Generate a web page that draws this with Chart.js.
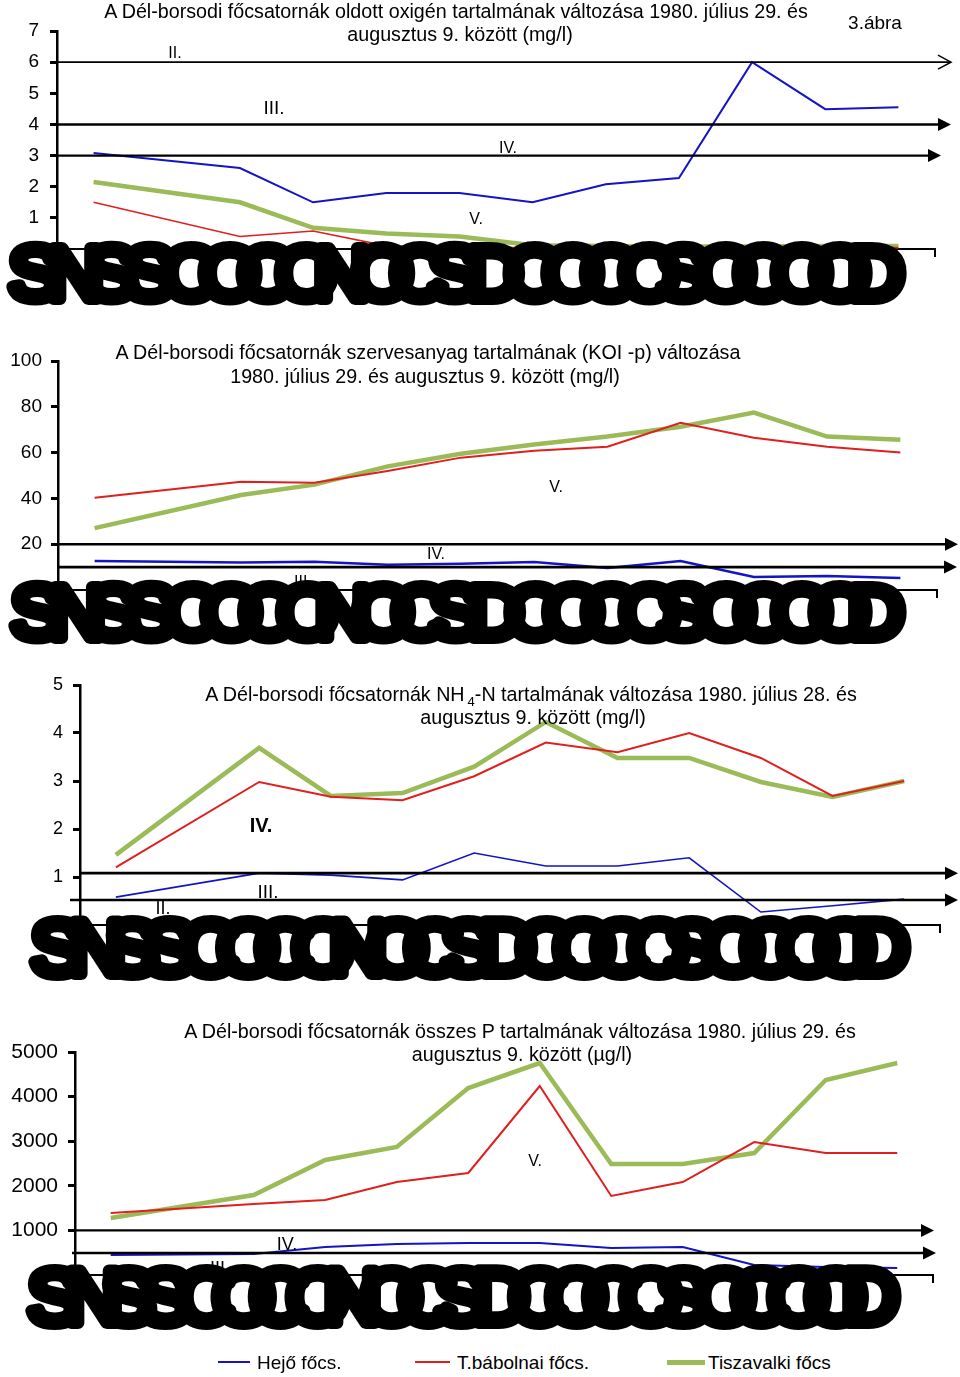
<!DOCTYPE html>
<html><head><meta charset="utf-8">
<script src="https://cdn.jsdelivr.net/npm/chart.js@4.4.1/dist/chart.umd.min.js"></script>
<style>
html,body{margin:0;padding:0;background:#fff;}
body{width:960px;height:1377px;position:relative;overflow:hidden;font-family:"Liberation Sans",Arial,sans-serif;color:#000;}
canvas{position:absolute;left:0;}
.t{position:absolute;white-space:nowrap;font-size:19.7px;line-height:1;transform:translate(-50%,-50%);}
.lg{position:absolute;height:0;}
</style></head><body>
<canvas id="c1" width="960" height="320" style="top:0px"></canvas>
<canvas id="c2" width="960" height="320" style="top:330px"></canvas>
<canvas id="c3" width="960" height="330" style="top:655px"></canvas>
<canvas id="c4" width="960" height="350" style="top:990px"></canvas>

<div class="t" style="left:456px;top:12px">A Dél-borsodi főcsatornák oldott oxigén tartalmának változása 1980. július 29. és</div>
<div class="t" style="left:460px;top:35px">augusztus 9. között (mg/l)</div>
<div class="t" style="left:875px;top:22px;font-size:19px">3.ábra</div>
<div class="t" style="left:175px;top:53px;font-size:16px">II.</div>
<div class="t" style="left:274px;top:107px;font-size:19px">III.</div>
<div class="t" style="left:508px;top:148px;font-size:16px">IV.</div>
<div class="t" style="left:476px;top:219px;font-size:16px">V.</div>

<div class="t" style="left:428px;top:353px">A Dél-borsodi főcsatornák szervesanyag tartalmának (KOI -p) változása</div>
<div class="t" style="left:425px;top:377px">1980. július 29. és augusztus 9. között (mg/l)</div>
<div class="t" style="left:436px;top:554px;font-size:16px">IV.</div>
<div class="t" style="left:556px;top:487px;font-size:16px">V.</div>
<div class="t" style="left:303px;top:582px;font-size:16px">III.</div>

<div class="t" style="left:531px;top:695px">A Dél-borsodi főcsatornák NH<span style="font-size:13px;position:relative;top:5px;margin-left:3px">4</span>-N tartalmának változása 1980. július 28. és</div>
<div class="t" style="left:533px;top:718px">augusztus 9. között (mg/l)</div>
<div class="t" style="left:261px;top:825px;font-size:20px;font-weight:bold">IV.</div>
<div class="t" style="left:268px;top:891px;font-size:19px">III.</div>
<div class="t" style="left:163px;top:908px;font-size:18px">II.</div>

<div class="t" style="left:520px;top:1032px">A Dél-borsodi főcsatornák összes P tartalmának változása 1980. július 29. és</div>
<div class="t" style="left:522px;top:1055px">augusztus 9. között (µg/l)</div>
<div class="t" style="left:287px;top:1244px;font-size:18px">IV.</div>
<div class="t" style="left:220px;top:1268px;font-size:18px">III.</div>
<div class="t" style="left:535px;top:1161px;font-size:16px">V.</div>

<canvas id="b1" width="960" height="84"></canvas>
<canvas id="b2" width="960" height="84"></canvas>
<canvas id="b3" width="960" height="84"></canvas>
<canvas id="b4" width="960" height="84"></canvas>

<div id="legend"></div>

<script>
// ---- data ----
const categories = ['VII. 29.','VII. 30.','VII. 31.','VIII. 1.','VIII. 2.','VIII. 3.','VIII. 4.','VIII. 5.','VIII. 6.','VIII. 7.','VIII. 8.','VIII. 9.'];
const seriesNames = ['Hejő főcs.','T.bábolnai főcs.','Tiszavalki főcs'];
// the unreadable, overprinted category-label strip under each plot
const garbledLabel = 'SNSSCOCONOCSDCOCOSOCOOD';

// oldott oxigén (mg/l)
const o2Hejo  = [3.08, null, 2.6, 1.5, 1.8, 1.8, 1.5, 2.08, 2.28, 6.0, 4.49, 4.55];
const o2Tbab  = [1.5, null, 0.4, 0.58, 0.1, 0.05, 0.05, 0.05, 0.05, 0.05, 0.05, 0.05];
const o2Tisza = [2.15, null, 1.5, 0.68, 0.5, 0.4, 0.12, 0.1, 0.08, 0.08, 0.1, 0.1];
const o2Ticks = [0, 7, 1];          // min, max, step
const o2Classes = [6, 4, 3];

// KOI-p (mg/l)
const koiHejo  = [12.7, null, 12.0, 12.3, 11.0, 11.5, 12.2, 9.6, 12.7, 5.7, 6.1, 5.2];
const koiTbab  = [40.3, null, 47.3, 46.8, 52.0, 57.8, 60.8, 62.6, 73.0, 66.5, 62.6, 60.0];
const koiTisza = [27.0, null, 41.5, 46.0, 54.0, 59.5, 63.5, 67.0, 71.3, 77.5, 67.0, 65.6];
const koiTicks = [0, 100, 20];
const koiClasses = [20, 10];

// NH4-N (mg/l)
const nhHejo  = [0.58, null, 1.08, 1.04, 0.94, 1.5, 1.23, 1.23, 1.4, 0.27, 0.4, 0.54];
const nhTbab  = [1.2, null, 2.98, 2.67, 2.6, 3.1, 3.8, 3.6, 4.0, 3.48, 2.69, 3.0];
const nhTisza = [1.46, null, 3.69, 2.69, 2.75, 3.3, 4.23, 3.48, 3.48, 2.98, 2.67, 3.0];
const nhTicks = [0, 5, 1];
const nhClasses = [1.08, 0.52];

// összes P (µg/l)
const pHejo  = [448, null, 470, 628, 695, 717, 717, 605, 628, 224, 179, 157];
const pTbab  = [1390, null, 1592, 1682, 2085, 2287, 4237, 1771, 2085, 2982, 2735, 2735];
const pTisza = [1278, null, 1794, 2578, 2870, 4192, 4753, 2488, 2488, 2735, 4372, 4753];
const pTicks = [0, 5000, 1000];
const pClasses = [1000, 493];

const COLORS = ['#1414c4', '#e01f1f', '#9bbb59'];
const WIDTHS = [2, 2, 4.5];
const FONT = '"Liberation Sans", Arial, sans-serif';

const arrowPlugin = {
  id: 'classArrows',
  afterDatasetsDraw(chart, args, opts) {
    const ctx = chart.ctx, ys = chart.scales.y;
    (opts.items || []).forEach(it => {
      const py = ys.getPixelForValue(it.value);
      ctx.save();
      ctx.strokeStyle = '#000'; ctx.fillStyle = '#000';
      ctx.lineWidth = it.w;
      ctx.beginPath();
      ctx.moveTo(it.x0, py);
      ctx.lineTo(it.head === 'open' ? it.x1 : it.x1 - 10, py);
      ctx.stroke();
      if (it.head === 'open') {
        ctx.lineWidth = 1.5;
        ctx.beginPath();
        ctx.moveTo(it.x1 - 13, py - 7); ctx.lineTo(it.x1, py); ctx.lineTo(it.x1 - 13, py + 7);
        ctx.stroke();
      } else {
        ctx.beginPath();
        ctx.moveTo(it.x1, py); ctx.lineTo(it.x1 - 13, py - 6.5); ctx.lineTo(it.x1 - 13, py + 6.5);
        ctx.closePath(); ctx.fill();
      }
      ctx.restore();
    });
    // small closing tick at the right end of the category axis
    const {right, bottom} = chart.chartArea;
    ctx.save();
    ctx.strokeStyle = '#000'; ctx.lineWidth = 2;
    ctx.beginPath(); ctx.moveTo(right, bottom); ctx.lineTo(right, bottom + 8); ctx.stroke();
    ctx.restore();
  }
};

function makeChart(id, data, ticks, cfg) {
  const [hejo, tbab, tisza] = data;
  return new Chart(document.getElementById(id), {
    type: 'line',
    data: {
      labels: categories,
      datasets: [hejo, tbab, tisza].map((d, i) => ({
        label: seriesNames[i], data: d,
        borderColor: COLORS[i], backgroundColor: COLORS[i],
        borderWidth: (cfg.widths || WIDTHS)[i], pointRadius: 0, tension: 0,
        spanGaps: true, fill: false
      }))
    },
    options: {
      responsive: false, animation: false, events: [],
      layout: { padding: { top: cfg.top, right: cfg.right, left: 0, bottom: 0 } },
      plugins: { legend: { display: false }, tooltip: { enabled: false },
                 classArrows: { items: cfg.arrows } },
      scales: {
        x: {
          offset: true,
          grid: { display: false },
          border: { display: true, color: '#000', width: 2 },
          ticks: { display: false },
          afterFit: s => { s.height = cfg.xh; }
        },
        y: {
          min: ticks[0], max: ticks[1],
          ticks: { stepSize: ticks[2], color: '#000', padding: cfg.pad,
                   font: { family: FONT, size: cfg.fs },
                   callback: v => String(v) },
          grid: { display: true, drawOnChartArea: false, drawTicks: true,
                  tickLength: 7, color: '#000', lineWidth: 3 },
          border: { display: true, color: '#000', width: 2.5 },
          afterFit: s => { s.width = cfg.left; }
        }
      }
    },
    plugins: [arrowPlugin]
  });
}

makeChart('c1', [o2Hejo, o2Tbab, o2Tisza], o2Ticks, {
  top: 31, right: 25, left: 57, xh: 71, fs: 19, pad: 11, widths: [2, 1.6, 4.5],
  arrows: [
    { value: o2Classes[0], x0: 57, x1: 951, w: 1.6, head: 'open' },
    { value: o2Classes[1], x0: 57, x1: 951, w: 2.6, head: 'filled' },
    { value: o2Classes[2], x0: 57, x1: 941, w: 2.2, head: 'filled' }
  ]
});
makeChart('c2', [koiHejo, koiTbab, koiTisza], koiTicks, {
  top: 31, right: 23, left: 58, xh: 60, fs: 19, pad: 9, widths: [2.5, 2, 4.5],
  arrows: [
    { value: koiClasses[0], x0: 57, x1: 958, w: 2.6, head: 'filled' },
    { value: koiClasses[1], x0: 57, x1: 957, w: 2.6, head: 'filled' }
  ]
});
makeChart('c3', [nhHejo, nhTbab, nhTisza], nhTicks, {
  top: 30, right: 20, left: 80, xh: 60, fs: 18, pad: 10, widths: [1.6, 2, 4.5],
  arrows: [
    { value: nhClasses[0], x0: 80, x1: 958, w: 2.6, head: 'filled' },
    { value: nhClasses[1], x0: 70, x1: 958, w: 2.6, head: 'filled' }
  ]
});
makeChart('c4', [pHejo, pTbab, pTisza], pTicks, {
  top: 62, right: 27, left: 75, xh: 65, fs: 21, pad: 10, widths: [2, 2, 4.5],
  arrows: [
    { value: pClasses[0], x0: 72, x1: 934, w: 2.4, head: 'filled' },
    { value: pClasses[1], x0: 72, x1: 936, w: 2.4, head: 'filled' }
  ]
});

// legend
const lg = document.getElementById('legend');
const lgPos = [[218, 250, 257], [415, 450, 457], [667, 705, 708]];
seriesNames.forEach((n, i) => {
  const [a, b, tx] = lgPos[i];
  const line = document.createElement('div');
  line.className = 'lg';
  const lh = i === 2 ? 5 : 2;
  line.style.cssText = `left:${a}px;width:${b - a}px;top:${1362 - lh / 2}px;height:${lh}px;background:${COLORS[i]};`;
  lg.appendChild(line);
  const t = document.createElement('div');
  t.className = 't';
  t.style.cssText = `left:${tx}px;top:1362px;transform:translate(0,-50%);font-size:19px;`;
  t.textContent = n;
  lg.appendChild(t);
});

// overprinted label strips
function drawBlob(id, x, y, w, h) {
  const cv = document.getElementById(id);
  cv.style.top = (y - 10) + 'px';
  const ctx = cv.getContext('2d');
  const lw = 12;
  const fs = (h - lw) / 0.73;
  ctx.font = `${fs}px "Liberation Sans", Arial, sans-serif`;
  ctx.lineWidth = lw; ctx.lineJoin = 'round'; ctx.lineCap = 'round';
  ctx.strokeStyle = '#000'; ctx.fillStyle = '#000';
  ctx.textBaseline = 'alphabetic';
  const sx = 1.05;
  const chars = garbledLabel.split('');
  const lastW = ctx.measureText(chars[chars.length - 1]).width * sx;
  const step = (w - lw - lastW) / (chars.length - 1);
  const base = 10 + h - lw / 2 - 1;
  chars.forEach((c, i) => {
    ctx.save();
    ctx.translate(x + lw / 2 + i * step, base);
    ctx.scale(sx, 1);
    ctx.strokeText(c, 0, 0);
    ctx.fillText(c, 0, 0);
    ctx.restore();
  });
}
drawBlob('b1', 3, 240, 907, 66);
drawBlob('b2', 5, 579, 905, 66);
drawBlob('b3', 25, 914, 890, 67);
drawBlob('b4', 22, 1263, 883, 67);
</script>
</body></html>
